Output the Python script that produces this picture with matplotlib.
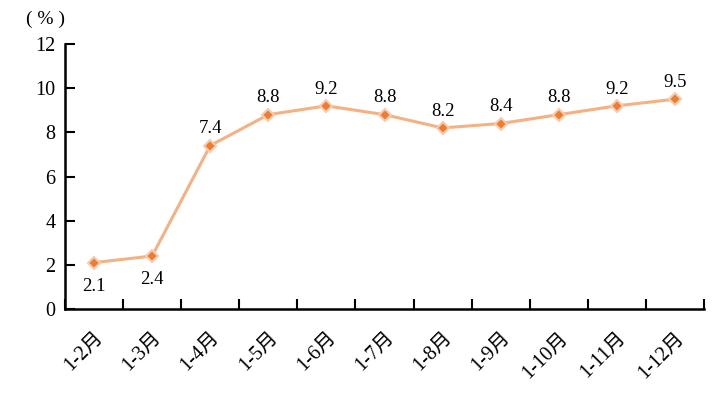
import matplotlib
matplotlib.use("Agg")
import matplotlib.pyplot as plt
import numpy as np

categories = ["1-2月", "1-3月", "1-4月", "1-5月", "1-6月", "1-7月", "1-8月", "1-9月", "1-10月", "1-11月", "1-12月"]
values = [2.1, 2.4, 7.4, 8.8, 9.2, 8.8, 8.2, 8.4, 8.8, 9.2, 9.5]
yticks = [0, 2, 4, 6, 8, 10, 12]

plt.rcParams['font.family'] = ['Liberation Serif', 'Noto Sans CJK SC']

fig = plt.figure(figsize=(7.19, 3.96), dpi=100)
ax = fig.add_axes([65/719, 1-309/396, (704-65)/719, (309-44)/396])

x = np.arange(len(categories))
ax.plot(x, values, color='#F4B183', lw=2.2, marker='D', markersize=6,
        markerfacecolor='#ED7D31', markeredgecolor='#F8CBAD', markeredgewidth=1.5, zorder=3)

for i, v in enumerate(values):
    if i < 2:
        ax.annotate(f"{v}", (i, v), xytext=(0, -11), textcoords='offset points',
                    ha='center', va='top', fontsize=13.5)
    else:
        ax.annotate(f"{v}", (i, v), xytext=(0, 6), textcoords='offset points',
                    ha='center', va='bottom', fontsize=13.5)

ax.set_xlim(-0.5, len(categories) - 0.5)
ax.set_ylim(0, 12)
ax.set_yticks(yticks)
ax.set_yticklabels([str(t) for t in yticks], fontsize=14.5)
ax.set_xticks(np.arange(len(categories) + 1) - 0.5, minor=False)
ax.set_xticklabels([])
ax.set_xticks(x, minor=True)
ax.set_xticklabels(categories, minor=True, rotation=45, ha='right', rotation_mode='anchor', fontsize=14.5)
ax.tick_params(axis='x', which='major', direction='in', length=7, width=1.5)
ax.tick_params(axis='x', which='minor', length=0, pad=14)
ax.tick_params(axis='y', direction='in', length=7, width=1.5, pad=7)

for s in ['top', 'right']:
    ax.spines[s].set_visible(False)
for s in ['left', 'bottom']:
    ax.spines[s].set_linewidth(1.8)

fig.text(45/719, 1-19/396, "( % )", ha='center', va='center', fontsize=14)

fig.savefig("out.png", dpi=100)
